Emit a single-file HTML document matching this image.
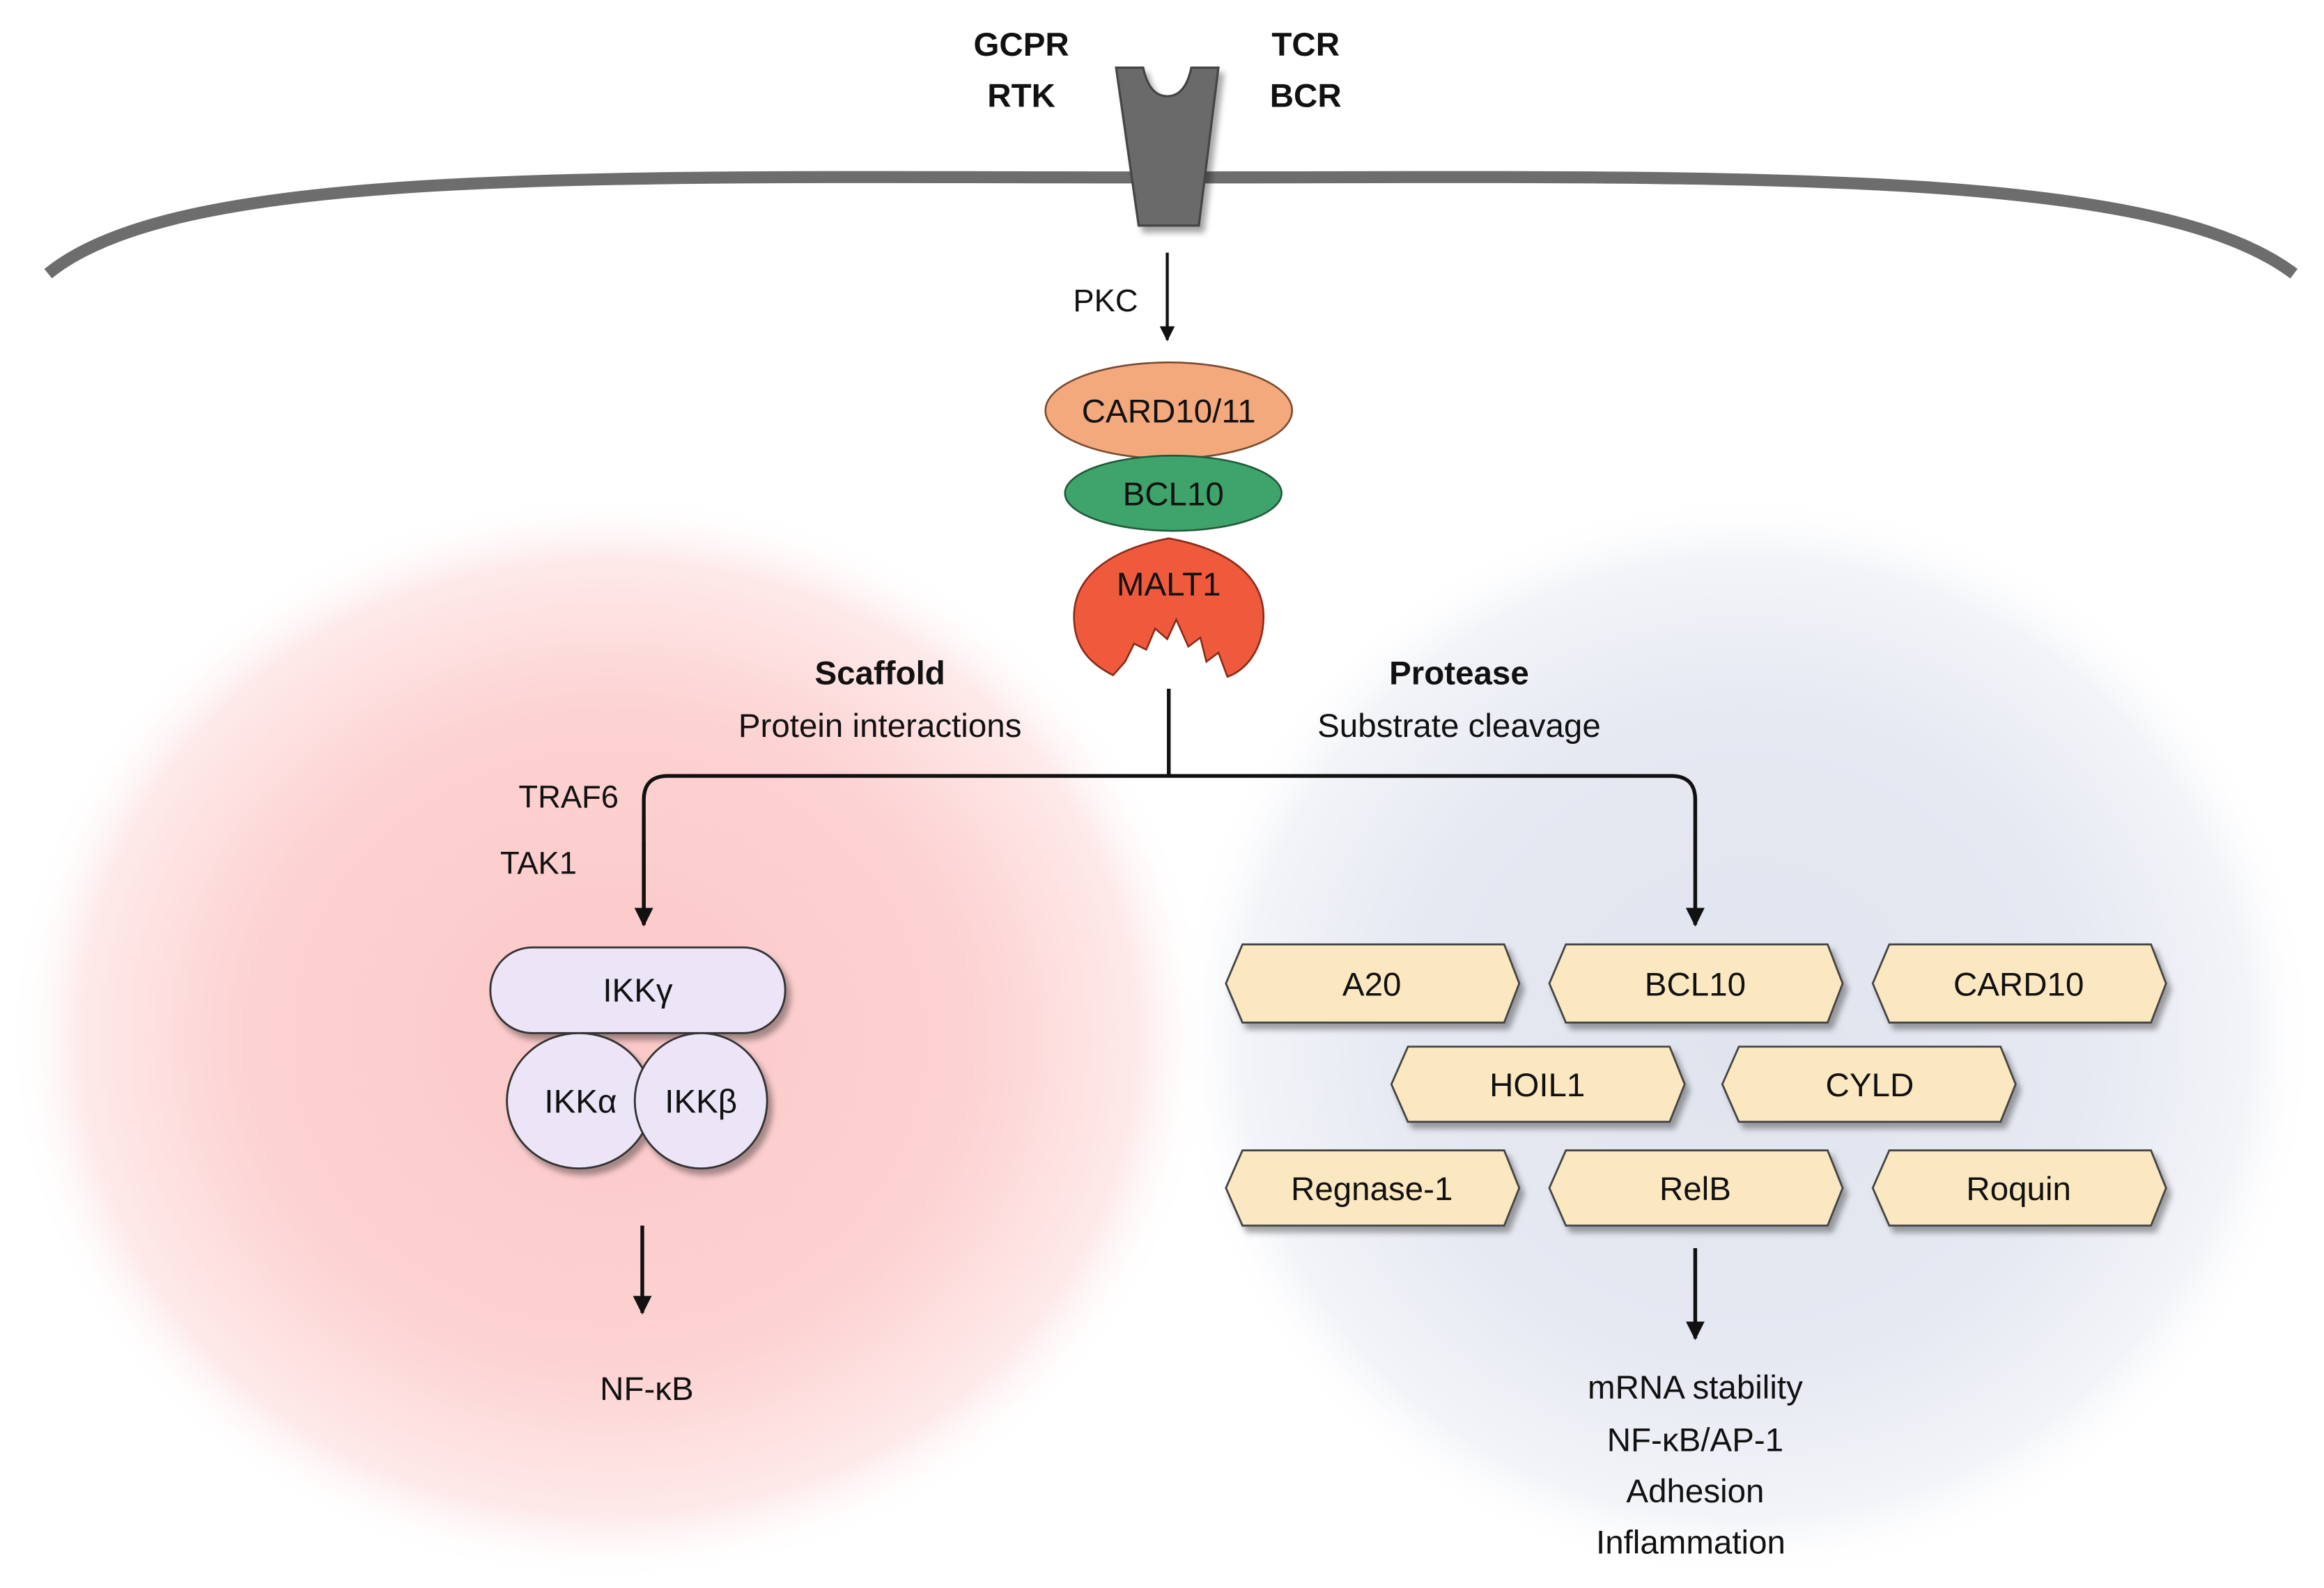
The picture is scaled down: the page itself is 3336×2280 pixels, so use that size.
<!DOCTYPE html>
<html><head><meta charset="utf-8">
<style>html,body{margin:0;padding:0;background:#fff;width:3336px;height:2280px;overflow:hidden}svg{display:block}
text{font-family:"Liberation Sans",sans-serif;fill:#111}</style></head>
<body>
<svg width="3336" height="2280" viewBox="0 0 1545 1056" preserveAspectRatio="none" xmlns="http://www.w3.org/2000/svg">
<defs>
<radialGradient id="rg" cx="0.5" cy="0.5" r="0.5">
<stop offset="0" stop-color="#fcc8c8"/><stop offset="0.6" stop-color="#fdd2d2"/><stop offset="0.88" stop-color="#feeaea"/><stop offset="1" stop-color="#fff" stop-opacity="0"/></radialGradient>
<radialGradient id="bg" cx="0.5" cy="0.5" r="0.5">
<stop offset="0" stop-color="#e0e4ee"/><stop offset="0.6" stop-color="#e6e9f2"/><stop offset="0.88" stop-color="#f2f4f8"/><stop offset="1" stop-color="#fff" stop-opacity="0"/></radialGradient>
<marker id="ah" viewBox="0 0 10 10" refX="9" refY="5" markerWidth="5" markerHeight="5" orient="auto"><path d="M0,0L10,5L0,10z" fill="#111"/></marker>
<filter id="sh" x="-10%" y="-10%" width="130%" height="140%"><feDropShadow dx="3" dy="4" stdDeviation="2" flood-color="#000" flood-opacity="0.35"/></filter>
</defs>
<rect width="1545" height="1056" fill="#fff"/>
<ellipse cx="1160" cy="690" rx="380" ry="362" fill="url(#bg)"/>
<ellipse cx="405" cy="690" rx="400" ry="362" fill="url(#rg)"/>

<path d="M32,182 C120,110 400,118 776,118 C1150,118 1430,110 1525,182" fill="none" stroke="#6d6d6d" stroke-width="8"/>
<path d="M742,45 L760,45 Q764,64 776,64 Q788,64 792,45 L810,45 L797,150 L757,150 Z" fill="#6a6a6a" stroke="#444" stroke-width="1.5" filter="url(#sh)"/>

<g font-weight="bold" font-size="22" text-anchor="middle">
<text x="679" y="37">GCPR</text><text x="679" y="71">RTK</text>
<text x="868" y="37">TCR</text><text x="868" y="71">BCR</text>
</g>
<text x="735" y="207" font-size="21" text-anchor="middle">PKC</text>
<line x1="776" y1="168" x2="776" y2="226" stroke="#111" stroke-width="2" marker-end="url(#ah)"/>

<ellipse cx="777" cy="273" rx="82" ry="32" fill="#f3a97c" stroke="#7a4a30" stroke-width="1.2"/>
<text x="777" y="281" font-size="22" text-anchor="middle">CARD10/11</text>
<ellipse cx="780" cy="328" rx="72" ry="25" fill="#3ea46c" stroke="#1f5a38" stroke-width="1.2"/>
<text x="780" y="336" font-size="22" text-anchor="middle">BCL10</text>
<path d="M777,358 C820,366 840,385 840,410 C840,432 828,446 816,450 L810,434 L802,440 L798,424 L790,430 L782,412 L776,425 L768,418 L762,432 L754,428 L748,440 L740,449 C722,440 714,428 714,410 C714,385 735,366 777,358 Z" fill="#ef5a3c" stroke="#8a2a18" stroke-width="1.2"/>
<text x="777" y="396" font-size="22" text-anchor="middle">MALT1</text>

<text x="585" y="455" font-size="22" font-weight="bold" text-anchor="middle">Scaffold</text>
<text x="585" y="490" font-size="22" text-anchor="middle">Protein interactions</text>
<text x="970" y="455" font-size="22" font-weight="bold" text-anchor="middle">Protease</text>
<text x="970" y="490" font-size="22" text-anchor="middle">Substrate cleavage</text>

<path d="M777,458 L777,516" stroke="#111" stroke-width="2.5" fill="none"/>
<path d="M428,615 L428,532 Q428,516 444,516 L1111,516 Q1127,516 1127,532 L1127,615" stroke="#111" stroke-width="2.5" fill="none" marker-end="url(#ah)"/>
<path d="M428,560 L428,615" stroke="#111" stroke-width="2.5" fill="none" marker-end="url(#ah)"/>

<text x="378" y="537" font-size="21" text-anchor="middle">TRAF6</text>
<text x="358" y="581" font-size="21" text-anchor="middle">TAK1</text>

<g fill="#ece4f7" stroke="#333" stroke-width="1.3" filter="url(#sh)">
<rect x="326" y="630" width="196" height="57" rx="28" ry="28"/>
<ellipse cx="385" cy="732" rx="48" ry="45"/>
<ellipse cx="466" cy="732" rx="44" ry="45"/>
</g>
<text x="424" y="666" font-size="22" text-anchor="middle">IKKγ</text>
<text x="386" y="740" font-size="22" text-anchor="middle">IKKα</text>
<text x="466" y="740" font-size="22" text-anchor="middle">IKKβ</text>

<line x1="427" y1="815" x2="427" y2="873" stroke="#111" stroke-width="2.5" marker-end="url(#ah)"/>
<text x="430" y="931" font-size="22" text-anchor="middle">NF-κB</text>

<g fill="#fbe8c0" stroke="#444" stroke-width="1.3" filter="url(#sh)">
<path d="M826,628 L1000,628 L1010,654 L1000,680 L826,680 L815,654 Z"/>
<path d="M1041,628 L1215,628 L1225,654 L1215,680 L1041,680 L1030,654 Z"/>
<path d="M1256,628 L1430,628 L1440,654 L1430,680 L1256,680 L1245,654 Z"/>
<path d="M936,696 L1110,696 L1120,721 L1110,746 L936,746 L925,721 Z"/>
<path d="M1156,696 L1330,696 L1340,721 L1330,746 L1156,746 L1145,721 Z"/>
<path d="M826,765 L1000,765 L1010,790 L1000,815 L826,815 L815,790 Z"/>
<path d="M1041,765 L1215,765 L1225,790 L1215,815 L1041,815 L1030,790 Z"/>
<path d="M1256,765 L1430,765 L1440,790 L1430,815 L1256,815 L1245,790 Z"/>
</g>
<g font-size="22" text-anchor="middle">
<text x="912" y="662">A20</text><text x="1127" y="662">BCL10</text><text x="1342" y="662">CARD10</text>
<text x="1022" y="729">HOIL1</text><text x="1243" y="729">CYLD</text>
<text x="912" y="798">Regnase-1</text><text x="1127" y="798">RelB</text><text x="1342" y="798">Roquin</text>
</g>

<line x1="1127" y1="830" x2="1127" y2="890" stroke="#111" stroke-width="2.5" marker-end="url(#ah)"/>
<g font-size="22" text-anchor="middle">
<text x="1127" y="930">mRNA stability</text>
<text x="1127" y="965">NF-κB/AP-1</text>
<text x="1127" y="999">Adhesion</text>
<text x="1124" y="1033">Inflammation</text>
</g>
</svg>
</body></html>
